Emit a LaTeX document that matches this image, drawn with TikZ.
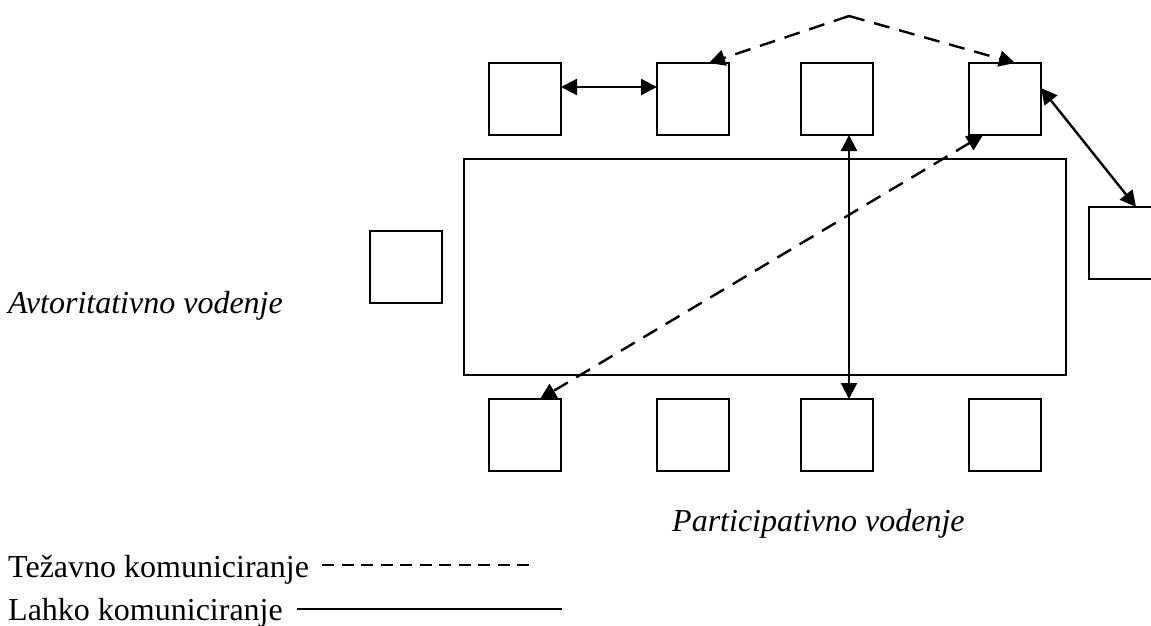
\documentclass[tikz,border=0pt]{standalone}
\usepackage{fontspec}
\setmainfont{Liberation Serif}
\usetikzlibrary{arrows.meta}
\begin{document}
\begin{tikzpicture}[x=1pt,y=-1pt,
  box/.style={draw, line width=2.2pt, minimum width=72pt, minimum height=72pt, inner sep=0pt, outer sep=0pt},
  ar/.style={line width=2.4pt, {Triangle[length=16pt,width=16pt]}-{Triangle[length=16pt,width=16pt]}},
  onear/.style={line width=2.4pt, -{Triangle[length=16pt,width=16pt]}},
  dsh/.style={dash pattern=on 16pt off 10pt},
  lbl/.style={font=\fontsize{32}{38}\selectfont, inner sep=0pt, anchor=base west}]
\useasboundingbox (0,0) rectangle (1151,626);
\clip (0,0) rectangle (1151,626);
% table
\node[box, minimum width=602pt, minimum height=216pt] (table) at (765,267) {};
% top row
\node[box] (t1) at (525,99) {};
\node[box] (t2) at (693,99) {};
\node[box] (t3) at (837,99) {};
\node[box] (t4) at (1005,99) {};
% bottom row
\node[box] (b1) at (525,435) {};
\node[box] (b2) at (693,435) {};
\node[box] (b3) at (837,435) {};
\node[box] (b4) at (1005,435) {};
% side seats
\node[box] (l) at (406,267) {};
\node[box] (r) at (1125,243) {};
\coordinate (apex) at (849,16);
% connectors
\draw[ar] ([yshift=12pt]t1.east) -- ([yshift=12pt]t2.west);
\draw[onear, dsh] (apex) -- ([xshift=16pt]t2.north);
\draw[onear, dsh] (apex) -- ([xshift=10pt]t4.north);
\draw[ar] ([xshift=12pt]t3.south) -- ([xshift=12pt]b3.north);
\draw[ar, dsh] ([xshift=-22pt]t4.south) -- ([xshift=15pt]b1.north);
\draw[ar] ([yshift=11pt]t4.east) -- ([xshift=11pt]r.north);
% labels
\node[lbl] (avt) at (8,313) {\itshape Avtoritativno vodenje};
\node[lbl] (par) at (672,531) {\itshape Participativno vodenje};
\node[lbl] (leg1) at (8,577) {Težavno komuniciranje};
\node[lbl] (leg2) at (8,620) {Lahko komuniciranje};
\coordinate (d1) at (322,565);
\coordinate (d2) at (532,565);
\coordinate (s1) at (297,609);
\coordinate (s2) at (562,609);
\draw[line width=2pt, dash pattern=on 12pt off 7.5pt] (d1) -- (d2);
\draw[line width=2pt] (s1) -- (s2);
\end{tikzpicture}
\end{document}
